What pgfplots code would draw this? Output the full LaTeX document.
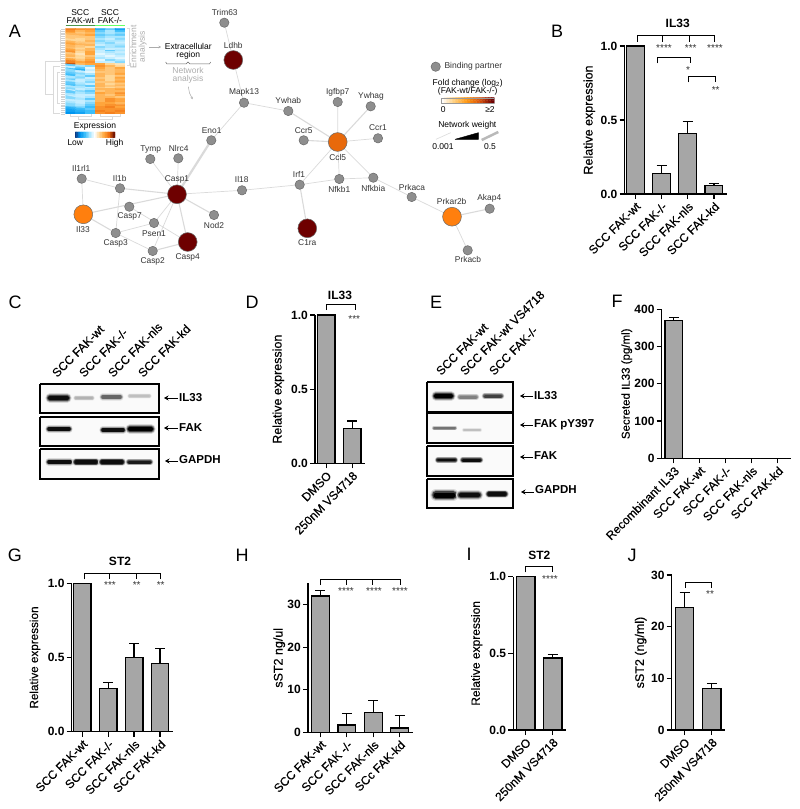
\documentclass[border=0pt]{standalone}
\usepackage{fontspec}
\setmainfont{Liberation Sans}
\newfontfamily\medfont[FakeBold=0.3]{Liberation Sans}
\usepackage{pgfplots}
\usepackage{pgfplotstable}
\pgfplotsset{compat=1.18}
\usetikzlibrary{arrows.meta}

\definecolor{barfill}{HTML}{A6A6A6}
\definecolor{nodegray}{HTML}{8E8E8E}
\definecolor{nodeedge}{HTML}{6A6A6A}
\definecolor{darkred}{HTML}{6E0000}
\definecolor{orangeA}{HTML}{FF7F0E}
\definecolor{orangeB}{HTML}{E8690B}
\definecolor{edgegray}{HTML}{DADADA}
\definecolor{softgray}{HTML}{ACACAC}

% network nodes: name, position, label position (pixels of the figure)
\pgfplotstableread{
name x y lx ly
Trim63 224.3 22.7 224.7 12.3
Mapk13 244 102.7 244 92
Eno1 211.3 140.3 211.7 131
Tymp 150.3 159 150.7 149
Nlrc4 178.3 158.3 178.7 148.7
Il1rl1 81.7 178.7 81.3 168.3
Il1b 120 188.3 119.7 178.3
Il18 242 190.3 241.7 179.7
Casp7 129.3 206.7 129.7 216.7
Psen1 154 223 154 233.3
Nod2 214 215 214 225
Casp3 115.7 233 115.7 243.3
Casp2 152.7 251 152.7 261.3
Ywhab 288.3 111 288.3 100.7
Igfbp7 337.7 102 337.7 92
Ywhag 370.7 106.3 371 96.3
Ccr5 303.7 140.3 303.7 130.3
Ccr1 378 138.3 378 128
Irf1 299.7 184.7 299 174.7
Nfkb1 339.3 179 339.3 189
Nfkbia 373.3 177.7 373.3 188
Prkaca 411.7 197 412 187
Akap4 489.7 208.7 489.3 198.7
Prkacb 467.7 250.3 468 259.7
}\smallgenes
\pgfplotstableread{
name x y lx ly
Ldhb 233.3 60 233.3 45.3
Casp1 177 194.3 177 179
Casp4 187.7 242 187.7 257
C1ra 307.3 228.3 307.3 243
}\redgenes
\pgfplotstableread{
name x y lx ly
Il33 83.3 214.3 83 229.3
Prkar2b 452 216.7 451.7 201.7
}\orangegenes
\pgfplotstableread{
name x y lx ly
Ccl5 337.7 142 337.7 157
}\ccl

\pgfplotsset{
  prism/.style={
    scale only axis, axis x line=bottom, axis y line=left,
    axis line style={-,line width=1.2pt},
    tick align=outside, major tick length=5pt,
    tick style={line width=1.2pt,black},
    ybar, bar width=17.7pt, ymin=0, clip=false,
    yticklabel style={font=\fontsize{12}{12}\selectfont\bfseries,inner sep=2pt},
    xticklabel style={rotate=45,anchor=north east,inner sep=1.5pt,font=\fontsize{12}{12}\medfont},
    ylabel style={font=\fontsize{12.5}{12.5}\medfont},
  },
  barp/.style={
    fill=barfill, draw=black, line width=1.2pt,
    error bars/y dir=plus, error bars/y explicit,
    error bars/error bar style={line width=1.2pt,black},
    error bars/error mark options={rotate=90,mark size=5pt,line width=1.2pt,black},
  },
  edge/.style={edgegray,no markers,unbounded coords=jump},
  netlabel/.style={draw=none,mark=none,nodes near coords,point meta=explicit symbolic,
    every node near coord/.append style={anchor=center,inner sep=0pt,text=black!80,font=\fontsize{8.4}{8.4}\selectfont}},
  heatmapcolors/.style={point meta min=-12,point meta max=12,
    colormap={heat}{rgb255=(11,56,130) rgb255=(0,150,240) rgb255=(60,190,250) rgb255=(170,230,255) rgb255=(255,255,255)
    rgb255=(255,215,150) rgb255=(255,165,60) rgb255=(240,110,15) rgb255=(115,20,0)}},
}

\newcommand{\lab}[4][12]{\node[anchor=center,inner sep=0pt,font=\fontsize{#1}{#1}\selectfont] at (#2,#3) {#4};}
\newcommand{\letter}[3]{\node[anchor=center,inner sep=0pt,font=\fontsize{18}{18}\selectfont] at (#1,#2) {#3};}
\newcommand{\stars}[3]{\node[anchor=center,inner sep=0pt,text=black!80,font=\fontsize{10}{10}\selectfont] at (#1,#2+2.5) {#3};}
\newcommand{\bracket}[4]{\addplot[black,line width=1pt,no markers] coordinates {(#1,#4) (#1,#3) (#2,#3) (#2,#4)};}
\newcommand{\spur}[3]{\addplot[black,line width=1pt,no markers] coordinates {(#1,#2) (#1,#3)};}
\newcommand{\blot}[4]{\addplot[black,line width=1.3pt,fill=black!2,no markers] coordinates {(#1,#3) (#2,#3) (#2,#4) (#1,#4) (#1,#3)};}
\newcommand{\band}[5]{%
  \addplot[black!\the\numexpr#5*15/100\relax,line width={#4*2.3pt},line cap=round,no markers] coordinates {(#1,#3) (#2,#3)};
  \addplot[black!\the\numexpr#5*40/100\relax,line width={#4*1.9pt},line cap=round,no markers] coordinates {(#1,#3) (#2,#3)};
  \addplot[black!\the\numexpr#5*75/100\relax,line width={#4*1.5pt},line cap=round,no markers] coordinates {(#1,#3) (#2,#3)};
  \addplot[black!#5,line width={#4*1pt},line cap=round,no markers] coordinates {(#1,#3) (#2,#3)};}
\newcommand{\pointer}[3]{\addplot[black,line width=1pt,no markers,-{Stealth[length=4.5pt,width=5pt]}] coordinates {(#2,#3) (#1,#3)};}
\newcommand{\toplabel}[3]{\node[rotate=45,anchor=base west,inner sep=0pt,font=\fontsize{12}{12}\medfont] at (#1,#2) {#3};}

\begin{document}
\begin{tikzpicture}
\useasboundingbox (0,0) rectangle (800pt,809pt);

% canvas in figure pixels: network, blots, brackets, panel letters
\begin{axis}[at={(0,0)},anchor=south west,width=800pt,height=809pt,scale only axis,hide axis,
  xmin=0,xmax=800,ymin=0,ymax=809,y dir=reverse,clip=false]

\letter{15}{31}{A}\letter{557}{31}{B}\letter{15}{302}{C}\letter{252}{302}{D}
\letter{436}{302}{E}\letter{617}{301}{F}\letter{15}{555}{G}\letter{242}{555}{H}
\letter{469}{554}{I}\letter{632}{555}{J}

% network edges
\addplot[edge,line width=0.7pt] coordinates {
 (224.3,22.7) (233.3,60) (nan,nan) (233.3,60) (244,102.7) (nan,nan)
 (244,102.7) (211.3,140.3) (nan,nan) (244,102.7) (288.3,111) (nan,nan)
 (150.3,159) (177,194.3) (nan,nan) (178.3,158.3) (177,194.3) (nan,nan)
 (81.7,178.7) (120,188.3) (nan,nan) (81.7,178.7) (83.3,214.3) (nan,nan)
 (120,188.3) (115.7,233) (nan,nan) (177,194.3) (242,190.3) (nan,nan)
 (242,190.3) (299.7,184.7) (nan,nan) (177,194.3) (154,223) (nan,nan)
 (177,194.3) (152.7,251) (nan,nan) (129.3,206.7) (187.7,242) (nan,nan)
 (115.7,233) (154,223) (nan,nan) (115.7,233) (152.7,251) (nan,nan)
 (337.7,102) (337.7,142) (nan,nan) (378,138.3) (337.7,142) (nan,nan)
 (337.7,142) (299.7,184.7) (nan,nan) (337.7,142) (339.3,179) (nan,nan)
 (337.7,142) (373.3,177.7) (nan,nan) (299.7,184.7) (339.3,179) (nan,nan)
 (339.3,179) (373.3,177.7) (nan,nan) (373.3,177.7) (411.7,197) (nan,nan)
 (411.7,197) (452,216.7) (nan,nan) (452,216.7) (467.7,250.3) (nan,nan)
};
\addplot[edge,line width=1.1pt] coordinates {
 (120,188.3) (177,194.3) (nan,nan) (83.3,214.3) (177,194.3) (nan,nan)
 (177,194.3) (187.7,242) (nan,nan) (177,194.3) (214,215) (nan,nan)
 (152.7,251) (187.7,242) (nan,nan) (83.3,214.3) (115.7,233) (nan,nan)
 (288.3,111) (337.7,142) (nan,nan) (303.7,140.3) (337.7,142) (nan,nan)
 (370.7,106.3) (337.7,142) (nan,nan) (299.7,184.7) (307.3,228.3) (nan,nan)
 (452,216.7) (489.7,208.7) (nan,nan)
};
\addplot[edge,line width=2.2pt] coordinates {(211.3,140.3) (177,194.3)};

% network nodes and their names
\addplot[only marks,mark=*,mark size=4.7pt,mark options={fill=nodegray,draw=nodeedge,line width=0.5pt}] table[x=x,y=y] {\smallgenes};
\addplot[only marks,mark=*,mark size=9.4pt,mark options={fill=darkred,draw=nodeedge,line width=0.5pt}] table[x=x,y=y] {\redgenes};
\addplot[only marks,mark=*,mark size=9.4pt,mark options={fill=orangeA,draw=nodeedge,line width=0.5pt}] table[x=x,y=y] {\orangegenes};
\addplot[only marks,mark=*,mark size=9.4pt,mark options={fill=orangeB,draw=nodeedge,line width=0.5pt}] table[x=x,y=y] {\ccl};
\addplot[netlabel] table[x=lx,y=ly,meta=name] {\smallgenes};
\addplot[netlabel] table[x=lx,y=ly,meta=name] {\redgenes};
\addplot[netlabel] table[x=lx,y=ly,meta=name] {\orangegenes};
\addplot[netlabel] table[x=lx,y=ly,meta=name] {\ccl};

% network legend
\addplot[only marks,mark=*,mark size=4.7pt,mark options={fill=nodegray,draw=nodeedge,line width=0.5pt}] coordinates {(435.7,66.7)};
\node[anchor=west,inner sep=0pt,text=black!80,font=\fontsize{8.5}{8.5}\selectfont] at (444.3,66.7) {Binding partner};
\lab[8.5]{467.7}{83.3}{Fold change (log\textsubscript{2})}
\lab[8.5]{467.7}{91.3}{(FAK-wt/FAK-/-)}
\lab[8.5]{443.3}{109.3}{0}
\lab[8.5]{490}{109.3}{≥2}
\lab[8.5]{467.3}{125.3}{Network weight}
\addplot[edge,line width=0.6pt] coordinates {(436,139.3) (450.7,132.7)};
\addplot[black,fill=black,no markers] coordinates {(455,139.3) (478.3,139.3) (478.3,132.7) (455,139.3)};
\addplot[edgegray!85!black,line width=2.5pt,no markers] coordinates {(481.7,140) (498.3,132)};
\lab[8.5]{443}{146.3}{0.001}
\lab[8.5]{490}{146.3}{0.5}

% heatmap surroundings
\lab[8.5]{80.3}{12.3}{SCC}\lab[8.5]{80.3}{20.7}{FAK-wt}
\lab[8.5]{110}{12.3}{SCC}\lab[8.5]{110}{20.7}{FAK-/-}
\addplot[black!60!green!70!white,line width=1.2pt,no markers] coordinates {(65.7,25.7) (95,25.7)};
\addplot[green!60!white,line width=1.2pt,no markers] coordinates {(95,25.7) (125,25.7)};
\addplot[edgegray,line width=0.6pt,no markers] coordinates {(127,28) (129,28) (129,65) (127,65)};
\addplot[black!18,line width=4pt,dash pattern=on 0.5pt off 1.3pt,no markers] coordinates {(62.5,29) (62.5,114)};
\addplot[edge,line width=0.6pt] coordinates {
 (45,61) (60,61) (nan,nan) (45,61) (45,94) (nan,nan) (45,94) (53,94) (nan,nan)
 (53,66) (53,113) (nan,nan) (53,66) (60,66) (nan,nan) (53,113) (60,113) (nan,nan)
 (57,72) (57,103) (nan,nan) (57,72) (60,72) (nan,nan) (57,103) (60,103) (nan,nan)
 (60,30) (60,62) (nan,nan)
 (70,114) (70,116) (91,116) (91,114) (nan,nan) (78,116) (78,119) (112,119) (112,116) (nan,nan)
 (100,114) (100,116) (120,116) (120,114)
};
\node[rotate=90,anchor=center,inner sep=0pt,text=softgray,font=\fontsize{8.5}{8.5}\selectfont] at (133.3,46.7) {Enrichment};
\node[rotate=90,anchor=center,inner sep=0pt,text=softgray,font=\fontsize{8.5}{8.5}\selectfont] at (142.7,46.7) {analysis};
\addplot[softgray,line width=0.6pt,no markers,-{Stealth[length=2.5pt,width=2.5pt]}] coordinates {(149,47) (161,47)};
\lab[8.5]{188.3}{46.3}{Extracellular}
\lab[8.5]{188.3}{55}{region}
\addplot[black!60,line width=0.5pt,no markers] coordinates {(165.7,62) (167,64) (186,64) (188,62) (190,64) (209.5,64) (210.7,62)};
\node[anchor=center,inner sep=0pt,text=softgray,font=\fontsize{8.5}{8.5}\selectfont] at (188,70.7) {Network};
\node[anchor=center,inner sep=0pt,text=softgray,font=\fontsize{8.5}{8.5}\selectfont] at (188,79.3) {analysis};
\addplot[softgray,line width=0.5pt,no markers,-{Stealth[length=2.5pt,width=2.5pt]}] coordinates {(188.3,86.7) (189.5,93) (192.7,99.3)};
\lab[8.5]{95}{126}{Expression}
\lab[8.5]{75.3}{143}{Low}
\lab[8.5]{114.7}{143}{High}

% panel C blots
\blot{40}{159}{384}{413}\blot{40}{159}{417}{446}\blot{40}{159}{449}{479}
\band{50}{67}{398}{4}{95}\band{76}{92}{398}{2.5}{30}\band{103}{120}{397}{3.2}{60}\band{130}{149}{396}{2.5}{25}
\band{49}{69}{429}{3.2}{95}\band{103}{123}{430}{3.2}{95}\band{130}{151}{429}{4}{100}
\band{49}{70}{462}{3.2}{95}\band{76}{96}{462}{3.5}{95}\band{102}{122}{462}{3.5}{95}\band{129}{150}{462}{3}{90}
\pointer{164}{178}{398}\pointer{164}{178}{428}\pointer{165}{178}{461}
\node[anchor=west,inner sep=0pt,font=\fontsize{11.5}{11.5}\selectfont\bfseries] at (179,398) {IL33};
\node[anchor=west,inner sep=0pt,font=\fontsize{11.5}{11.5}\selectfont\bfseries] at (179,428) {FAK};
\node[anchor=west,inner sep=0pt,font=\fontsize{11.5}{11.5}\selectfont\bfseries] at (179,460) {GAPDH};
\toplabel{57}{378}{SCC FAK-wt}\toplabel{84}{378}{SCC FAK-/-}\toplabel{113}{378}{SCC FAK-nls}\toplabel{143}{378}{SCC FAK-kd}

% panel E blots
\blot{427}{513}{382}{412}\blot{427}{513}{413}{443}\blot{427}{513}{446}{476}\blot{427}{513}{479}{508}
\band{436}{451}{396}{4}{100}\band{460}{476}{397}{3}{50}\band{485}{501}{396}{3}{75}
\band{434}{455}{428}{2}{55}\band{464}{480}{430}{1.8}{25}
\band{438}{455}{460}{2.8}{95}\band{463}{480}{460}{3}{95}
\band{436}{453}{495}{5}{100}\band{461}{478}{495}{4.5}{95}\band{489}{505}{494}{3.5}{95}
\pointer{520}{533}{396}\pointer{520}{533}{425}\pointer{520}{533}{457}\pointer{521}{534}{492}
\node[anchor=west,inner sep=0pt,font=\fontsize{11.5}{11.5}\selectfont\bfseries] at (534,396) {IL33};
\node[anchor=west,inner sep=0pt,font=\fontsize{11.5}{11.5}\selectfont\bfseries] at (534,425) {FAK pY397};
\node[anchor=west,inner sep=0pt,font=\fontsize{11.5}{11.5}\selectfont\bfseries] at (534,456) {FAK};
\node[anchor=west,inner sep=0pt,font=\fontsize{11.5}{11.5}\selectfont\bfseries] at (535,490) {GAPDH};
\toplabel{441}{376}{SCC FAK-wt}\toplabel{465}{376}{SCC FAK-wt VS4718}\toplabel{494}{376}{SCC FAK-/-}

% panel titles, brackets and significance stars
\lab[12]{677.7}{23.3}{\bfseries IL33}
\bracket{637.7}{714}{36}{41.7}\spur{662.7}{36}{41.7}\spur{689.3}{36}{41.7}
\stars{664}{45.7}{****}\stars{690.7}{45.7}{***}\stars{715}{45.7}{****}
\bracket{657.3}{690}{58}{63.3}\stars{688}{67.3}{*}
\bracket{688.3}{715.7}{76.7}{82.3}\stars{715.7}{87.7}{**}

\lab[12]{340}{295.7}{\bfseries IL33}
\bracket{326.7}{355.7}{304.3}{310}\stars{354.3}{316.7}{***}

\lab[12]{120}{561.7}{\bfseries ST2}
\bracket{84.3}{160.7}{573.3}{579.3}\spur{109}{573.3}{579.3}\spur{136}{573.3}{579.3}
\stars{110}{582.7}{***}\stars{136.7}{582.7}{**}\stars{160.7}{582.7}{**}

\bracket{320.7}{400}{579}{585}\spur{346}{579}{585}\spur{372.7}{579}{585}
\stars{346}{588.3}{****}\stars{374}{588.3}{****}\stars{400}{588.3}{****}

\lab[12]{539.3}{555.7}{\bfseries ST2}
\bracket{525.3}{552}{566.7}{572.3}\stars{550}{576.7}{****}

\bracket{685}{711}{582}{587.7}\stars{710}{591.7}{**}
\end{axis}

% heatmap
\begin{axis}[at={(65.7pt,695pt)},anchor=south west,width=59.3pt,height=85.7pt,scale only axis,hide axis,
  xmin=-0.5,xmax=5.5,ymin=-0.5,ymax=43.5,y dir=reverse,heatmapcolors]
\addplot[matrix plot*,mesh/cols=6,point meta=explicit] table[row sep=\\,
  x expr={mod(\coordindex,6)},y expr={floor(\coordindex/6)},meta=c] {
c\\
8\\7\\7\\-7\\-5\\-8\\
7\\5\\6\\-5\\-3\\-6\\
6\\4\\5\\-4\\-3\\-4\\
5\\5\\6\\-5\\-4\\-5\\
4\\4\\4\\-4\\-3\\-3\\
4\\3\\4\\-3\\-2\\-4\\
3\\3\\5\\-4\\-3\\-3\\
5\\4\\4\\-3\\-4\\-2\\
6\\5\\5\\-2\\-3\\-3\\
5\\4\\3\\-4\\-3\\-4\\
4\\3\\5\\-3\\-2\\-2\\
6\\4\\5\\-2\\-5\\-3\\
7\\3\\6\\-2\\-3\\-2\\
4\\2\\6\\-1\\-2\\-3\\
5\\3\\4\\-2\\-1\\-2\\
3\\3\\5\\-3\\-2\\-1\\
6\\4\\6\\-1\\-4\\-3\\
8\\6\\7\\-2\\-2\\-4\\
10\\5\\6\\6\\3\\2\\
-5\\-3\\-4\\7\\5\\3\\
-2\\-5\\-1\\6\\4\\6\\
-6\\-7\\-2\\5\\4\\5\\
-4\\-2\\-1\\4\\4\\5\\
-5\\-4\\-3\\5\\4\\6\\
-6\\-3\\-5\\5\\3\\4\\
-3\\-4\\-2\\4\\3\\6\\
-5\\-2\\-3\\5\\3\\5\\
-3\\-2\\-4\\4\\4\\6\\
-5\\-3\\-2\\5\\3\\4\\
-6\\-4\\-5\\5\\4\\5\\
-3\\-3\\-2\\4\\3\\4\\
-4\\-2\\-3\\5\\5\\6\\
-2\\-4\\-5\\4\\5\\5\\
-5\\-3\\-4\\6\\5\\7\\
-3\\-2\\-2\\5\\4\\6\\
-2\\-2\\-3\\5\\5\\4\\
-4\\-3\\-5\\5\\7\\6\\
-2\\-2\\-3\\5\\7\\6\\
-3\\-2\\-4\\6\\6\\5\\
-4\\-3\\-5\\6\\7\\7\\
-5\\-4\\-6\\7\\8\\6\\
-7\\-6\\-5\\7\\7\\7\\
-8\\-7\\-6\\8\\7\\8\\
-9\\-8\\-6\\7\\8\\7\\
};
\end{axis}

% expression colour key
\begin{axis}[at={(75pt,671.3pt)},anchor=south west,width=40pt,height=5.7pt,scale only axis,hide axis,
  xmin=-0.5,xmax=24.5,ymin=-0.5,ymax=1.5,heatmapcolors]
\addplot[matrix plot*,mesh/cols=25,point meta=explicit] table[row sep=\\,
  x expr={mod(\coordindex,25)},y expr={floor(\coordindex/25)},meta=c] {
c\\
-12\\-11\\-10\\-9\\-8\\-7\\-6\\-5\\-4\\-3\\-2\\-1\\0\\1\\2\\3\\4\\5\\6\\7\\8\\9\\10\\11\\12\\
-12\\-11\\-10\\-9\\-8\\-7\\-6\\-5\\-4\\-3\\-2\\-1\\0\\1\\2\\3\\4\\5\\6\\7\\8\\9\\10\\11\\12\\
};
\end{axis}

% fold change colour key
\begin{axis}[at={(441pt,705.7pt)},anchor=south west,width=53.3pt,height=5.6pt,scale only axis,hide axis,
  xmin=-0.5,xmax=17.5,ymin=-0.5,ymax=1.5,point meta min=0,point meta max=17,
  colormap={fold}{rgb255=(255,255,255) rgb255=(255,205,120) rgb255=(255,150,15) rgb255=(215,80,8) rgb255=(110,0,0)}]
\addplot[matrix plot*,mesh/cols=18,point meta=explicit] table[row sep=\\,
  x expr={mod(\coordindex,18)},y expr={floor(\coordindex/18)},meta=c] {
c\\
0\\1\\2\\3\\4\\5\\6\\7\\8\\9\\10\\11\\12\\13\\14\\15\\16\\17\\
0\\1\\2\\3\\4\\5\\6\\7\\8\\9\\10\\11\\12\\13\\14\\15\\16\\17\\
};
\draw[black!40,line width=0.3pt] (rel axis cs:0,0) rectangle (rel axis cs:1,1);
\end{axis}

% B
\begin{axis}[prism,at={(624.5pt,615pt)},anchor=south west,width=102.5pt,height=148pt,
  xmin=-0.412,xmax=3.5,ymax=1,ytick={0,0.5,1},yticklabels={0.0,0.5,1.0},
  xtick={0,1,2,3},xticklabels={SCC FAK-wt,SCC FAK-/-,SCC FAK-nls,SCC FAK-kd},
  ylabel={Relative expression},ylabel style={at={(axis description cs:-0.343,0.5)},anchor=center}]
\addplot[barp] coordinates {(0,1) +- (0,0) (1,0.14) +- (0,0.05) (2,0.41) +- (0,0.08) (3,0.06) +- (0,0.012)};
\end{axis}

% D
\begin{axis}[prism,at={(315pt,345.7pt)},anchor=south west,width=50pt,height=148.3pt,
  xmin=-0.431,xmax=1.492,ymax=1,ytick={0,0.5,1},yticklabels={0.0,0.5,1.0},
  xtick={0,1},xticklabels={DMSO,250nM VS4718},
  ylabel={Relative expression},ylabel style={at={(axis description cs:-0.733,0.5)},anchor=center}]
\addplot[barp] coordinates {(0,1) +- (0,0) (1,0.235) +- (0,0.05)};
\end{axis}

% F
\begin{axis}[prism,at={(661.7pt,350.7pt)},anchor=south west,width=129pt,height=149pt,
  xmin=-0.465,xmax=4.5,ymax=400,ytick={0,100,200,300,400},yticklabels={0,100,200,300,400},
  xtick={0,1,2,3,4},xticklabels={Recombinant IL33,SCC FAK-wt,SCC FAK-/-,SCC FAK-nls,SCC FAK-kd},
  ylabel={Secreted IL33 (pg/ml)},ylabel style={font=\fontsize{11.5}{11.5}\medfont,at={(axis description cs:-0.271,0.5)},anchor=center}]
\addplot[barp] coordinates {(0,370) +- (0,9) (1,0) +- (0,0) (2,0) +- (0,0) (3,0) +- (0,0) (4,0) +- (0,0)};
\end{axis}

% G
\begin{axis}[prism,at={(71.7pt,77.3pt)},anchor=south west,width=101.6pt,height=148.4pt,
  xmin=-0.405,xmax=3.512,ymax=1,ytick={0,0.5,1},yticklabels={0.0,0.5,1.0},
  xtick={0,1,2,3},xticklabels={SCC FAK-wt,SCC FAK-/-,SCC FAK-nls,SCC FAK-kd},
  ylabel={Relative expression},ylabel style={font=\fontsize{11.7}{11.7}\medfont,at={(axis description cs:-0.361,0.5)},anchor=center}]
\addplot[barp] coordinates {(0,1) +- (0,0) (1,0.29) +- (0,0.04) (2,0.5) +- (0,0.095) (3,0.46) +- (0,0.1)};
\end{axis}

% H
\begin{axis}[prism,at={(308pt,76.7pt)},anchor=south west,width=104.7pt,height=149pt,
  xmin=-0.473,xmax=3.492,ymax=35,ytick={0,10,20,30},yticklabels={0,10,20,30},
  xtick={0,1,2,3},xticklabels={SCC FAK-wt,SCC FAK -/-,SCC FAK-nls,SCc FAK-kd},
  ylabel={sST2 ng/ul},ylabel style={at={(axis description cs:-0.274,0.5)},anchor=center}]
\addplot[barp] coordinates {(0,32) +- (0,1.4) (1,1.7) +- (0,2.7) (2,4.7) +- (0,2.7) (3,1) +- (0,3)};
\end{axis}

% I
\begin{axis}[prism,at={(513.3pt,79pt)},anchor=south west,width=52.7pt,height=153.3pt,bar width=18.7pt,
  xmin=-0.459,xmax=1.493,ymax=1,ytick={0,0.5,1},yticklabels={0.0,0.5,1.0},
  xtick={0,1},xticklabels={DMSO,250nM VS4718},
  ylabel={Relative expression},ylabel style={font=\fontsize{12}{12}\medfont,at={(axis description cs:-0.694,0.5)},anchor=center}]
\addplot[barp] coordinates {(0,1) +- (0,0) (1,0.47) +- (0,0.02)};
\end{axis}

% J
\begin{axis}[prism,at={(671.7pt,79pt)},anchor=south west,width=53.3pt,height=155pt,bar width=18.3pt,
  xmin=-0.469,xmax=1.484,ymax=30,ytick={0,10,20,30},yticklabels={0,10,20,30},
  xtick={0,1},xticklabels={DMSO,250nM VS4718},
  ylabel={sST2 (ng/ml)},ylabel style={at={(axis description cs:-0.582,0.5)},anchor=center}]
\addplot[barp] coordinates {(0,23.7) +- (0,2.9) (1,8.1) +- (0,0.9)};
\end{axis}
\end{tikzpicture}
\end{document}
